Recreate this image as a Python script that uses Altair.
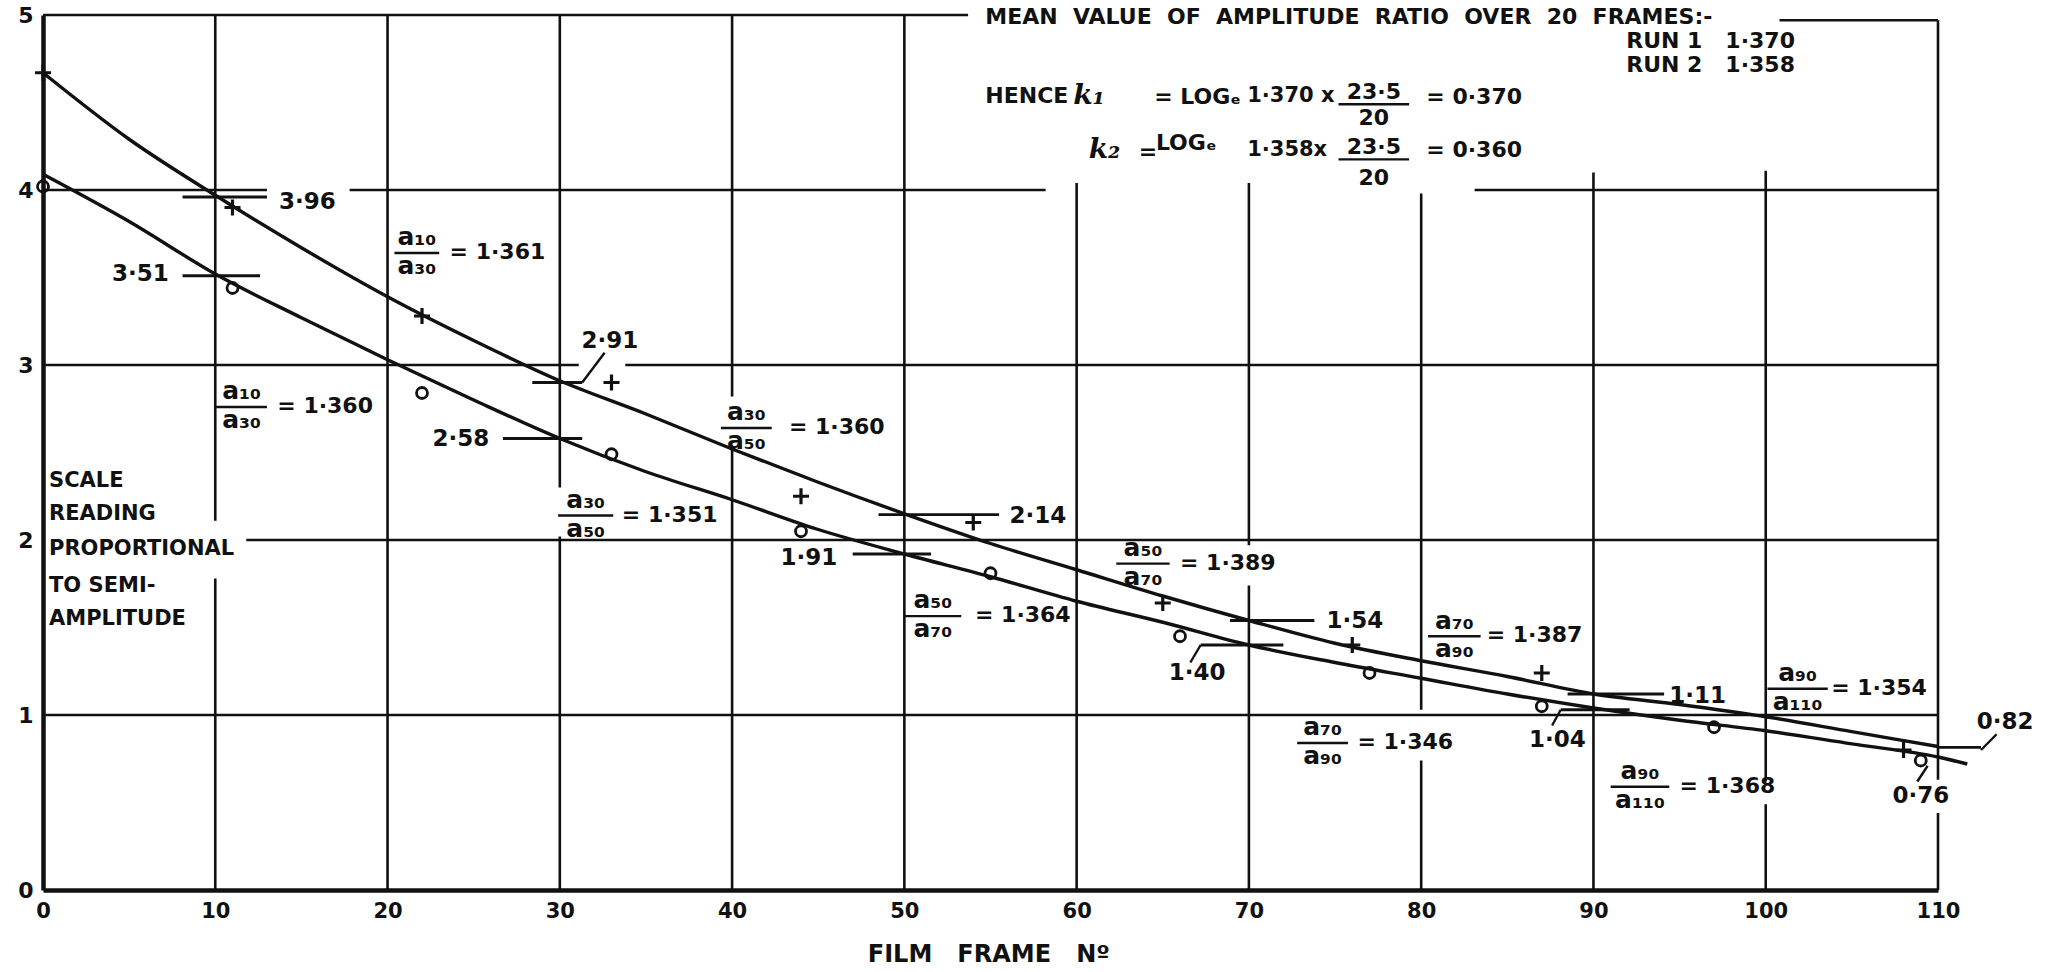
import altair as alt
import pandas as pd

# ---------------- values ----------------
x_ticks = [0, 10, 20, 30, 40, 50, 60, 70, 80, 90, 100, 110]
y_ticks = [0, 1, 2, 3, 4, 5]

# smooth curve, run 1 (upper)
run1_curve_frame = [0, 5, 10, 15, 20, 25, 30, 35, 40, 45, 50, 55, 60, 65, 70, 75, 80, 85, 90, 95, 100, 105, 110]
run1_curve_reading = [4.67, 4.29, 3.97, 3.67, 3.39, 3.14, 2.91, 2.72, 2.52, 2.33, 2.15, 1.98, 1.83, 1.68, 1.54,
                      1.41, 1.31, 1.22, 1.12, 1.06, 0.99, 0.905, 0.82]
# smooth curve, run 2 (lower)
run2_curve_frame = [0, 5, 10, 15, 20, 25, 30, 35, 40, 45, 50, 55, 60, 65, 70, 75, 80, 85, 90, 95, 100, 105, 110, 111.7]
run2_curve_reading = [4.09, 3.82, 3.52, 3.27, 3.03, 2.80, 2.58, 2.39, 2.23, 2.06, 1.92, 1.79, 1.65, 1.53, 1.40,
                      1.30, 1.21, 1.12, 1.04, 0.97, 0.91, 0.835, 0.76, 0.72]

# observed readings
run1_point_frame = [0, 11, 22, 33, 44, 54, 65, 76, 87, 108]
run1_point_reading = [4.67, 3.90, 3.28, 2.90, 2.25, 2.10, 1.64, 1.40, 1.24, 0.80]
run2_point_frame = [0, 11, 22, 33, 44, 55, 66, 77, 87, 97, 109]
run2_point_reading = [4.02, 3.44, 2.84, 2.49, 2.05, 1.81, 1.45, 1.24, 1.05, 0.93, 0.74]

# values marked on the curves every 20 frames
run1_marked = ["3·96", "2·91", "2·14", "1·54", "1·11", "0·82"]
run2_marked = ["3·51", "2·58", "1·91", "1·40", "1·04", "0·76"]

# amplitude ratios
ratio_num = ["a₁₀", "a₁₀", "a₃₀", "a₃₀", "a₅₀", "a₅₀", "a₇₀", "a₇₀", "a₉₀", "a₉₀"]
ratio_den = ["a₃₀", "a₃₀", "a₅₀", "a₅₀", "a₇₀", "a₇₀", "a₉₀", "a₉₀", "a₁₁₀", "a₁₁₀"]
ratio_val = ["1·361", "1·360", "1·360", "1·351", "1·389", "1·364", "1·346", "1·387", "1·354", "1·368"]

title_text = "MEAN  VALUE  OF  AMPLITUDE  RATIO  OVER  20  FRAMES:-"
run_lines = ["RUN 1   1·370", "RUN 2   1·358"]
y_title_lines = ["SCALE", "READING", "PROPORTIONAL", "TO SEMI-", "AMPLITUDE"]
x_title = "FILM   FRAME   Nº"

# ---------------- layout of annotations (data coordinates) ----------------
INK = "#111111"
FONT = "DejaVu Sans"
NB = "\u00a0"


def keep_spaces(s):
    return s.replace(" ", NB)


# interrupted grid lines
vert_grid = [(10, 0, 1.78), (10, 2.11, 5), (20, 0, 5), (30, 0, 2.02), (30, 2.30, 5),
             (40, 0, 2.53), (40, 2.82, 5), (50, 0, 5), (60, 0, 4.04), (70, 0, 1.74), (70, 1.97, 4.04),
             (80, 0, 0.74), (80, 1.03, 3.98), (90, 0, 4.10), (100, 0, 0.49), (100, 0.62, 4.11),
             (110, 0, 0.44), (110, 0.63, 4.97)]
horiz_grid = [(5.0, 0, 53.7), (4.97, 100.8, 110), (4, 0, 13.0), (4, 17.8, 58.2), (4, 83.1, 110),
              (3, 0, 31.1), (3, 33.8, 110), (2, 11.8, 110), (1, 0, 110)]

# short marker ticks at the marked values
mark_ticks = [(3.96, 8.1, 13.0), (3.51, 8.1, 12.6), (2.90, 28.4, 31.3), (2.58, 26.7, 31.3),
              (2.145, 48.5, 55.5), (1.92, 47.0, 51.55), (1.54, 68.9, 73.8), (1.40, 67.2, 72.0),
              (1.12, 88.5, 94.1), (1.03, 88.1, 92.1), (0.815, 110, 112.5)]
leaders = [(31.3, 2.90, 32.6, 3.07), (67.2, 1.40, 66.6, 1.30), (88.1, 1.03, 87.6, 0.94),
           (112.5, 0.80, 113.4, 0.89), (109.4, 0.71, 108.8, 0.62)]
run1_label_pos = [(13.7, 3.93, "left"), (32.9, 3.14, "center"), (56.1, 2.14, "left"),
                  (74.5, 1.54, "left"), (94.4, 1.11, "left"), (113.9, 0.96, "center")]
run2_label_pos = [(7.3, 3.52, "right"), (25.9, 2.58, "right"), (46.1, 1.90, "right"),
                  (67.0, 1.24, "center"), (87.9, 0.86, "center"), (109.0, 0.54, "center")]
# fraction bar x1, x2, y and left x of "= value"
ratio_pos = [(20.4, 23.0, 3.64, 23.6), (10.05, 13.0, 2.76, 13.6), (39.35, 42.3, 2.64, 43.3),
             (29.9, 33.1, 2.14, 33.6), (62.3, 65.4, 1.865, 66.0), (50.0, 53.3, 1.565, 54.1),
             (72.8, 75.75, 0.84, 76.3), (80.4, 83.45, 1.45, 83.8), (100.1, 103.6, 1.15, 103.8),
             (91.0, 94.4, 0.59, 95.0)]

xs = alt.Scale(domain=[0, 110], nice=False, zero=False)
ys = alt.Scale(domain=[0, 5], nice=False, zero=False)
x_axis = alt.Axis(values=x_ticks, title=None, grid=False, ticks=False, domainWidth=4.5, domainColor=INK,
                  labelFont=FONT, labelFontSize=21, labelFontWeight="bold", labelColor=INK,
                  labelPadding=10, labelFlush=False, labelOverlap=False)
y_axis = alt.Axis(values=y_ticks, title=None, grid=False, ticks=False, domainWidth=4.5, domainColor=INK,
                  labelFont=FONT, labelFontSize=22, labelFontWeight="bold", labelColor=INK,
                  labelPadding=10)


def X():
    return alt.X("x:Q", scale=xs, axis=x_axis)


def Y():
    return alt.Y("y:Q", scale=ys, axis=y_axis)


layers = []

# grid segments
vg = pd.DataFrame(vert_grid, columns=["x", "y", "y2"])
layers.append(alt.Chart(vg).mark_rule(color=INK, strokeWidth=2.6).encode(x=X(), y=Y(), y2="y2:Q"))
hg = pd.DataFrame(horiz_grid, columns=["y", "x", "x2"])
layers.append(alt.Chart(hg).mark_rule(color=INK, strokeWidth=2.6).encode(y=Y(), x=X(), x2="x2:Q"))

# curves
c1 = pd.DataFrame({"x": run1_curve_frame, "y": run1_curve_reading})
c2 = pd.DataFrame({"x": run2_curve_frame, "y": run2_curve_reading})
for c in (c1, c2):
    layers.append(alt.Chart(c).mark_line(color=INK, strokeWidth=3.4, interpolate="monotone")
                  .encode(x=X(), y=Y()))

# ticks and leaders
mt = pd.DataFrame(mark_ticks, columns=["y", "x", "x2"])
layers.append(alt.Chart(mt).mark_rule(color=INK, strokeWidth=2.8).encode(y=Y(), x=X(), x2="x2:Q"))
ld = pd.DataFrame(leaders, columns=["x", "y", "x2", "y2"])
layers.append(alt.Chart(ld).mark_rule(color=INK, strokeWidth=2.4)
              .encode(x=X(), y=Y(), x2="x2:Q", y2="y2:Q"))

# observed points
p1 = pd.DataFrame({"x": run1_point_frame, "y": run1_point_reading})
p2 = pd.DataFrame({"x": run2_point_frame, "y": run2_point_reading})
layers.append(alt.Chart(p1).mark_point(shape="M-1,0L1,0M0,-1L0,1", filled=False, size=256,
                                       strokeWidth=3.2, color=INK, opacity=1).encode(x=X(), y=Y()))
layers.append(alt.Chart(p2).mark_point(shape="circle", filled=False, size=120,
                                       strokeWidth=2.8, color=INK, opacity=1).encode(x=X(), y=Y()))

# fraction bars
bars = [(b[2], b[0], b[1]) for b in ratio_pos] + [(4.49, 75.2, 79.3), (4.175, 75.2, 79.3)]
fb = pd.DataFrame(bars, columns=["y", "x", "x2"])
layers.append(alt.Chart(fb).mark_rule(color=INK, strokeWidth=2.4).encode(y=Y(), x=X(), x2="x2:Q"))

# texts
texts = {"left": [], "center": [], "right": []}
for lab, (lx, ly, al) in zip(run1_marked, run1_label_pos):
    texts[al].append((lx, ly, lab, 23))
for lab, (lx, ly, al) in zip(run2_marked, run2_label_pos):
    texts[al].append((lx, ly, lab, 23))
for n, d, v, (bx1, bx2, by, ex) in zip(ratio_num, ratio_den, ratio_val, ratio_pos):
    cx = (bx1 + bx2) / 2
    texts["center"].append((cx, by + 0.09, n, 25))
    texts["center"].append((cx, by - 0.075, d, 25))
    texts["left"].append((ex, by + 0.005, keep_spaces("= " + v), 22))
texts["left"].append((54.7, 4.99, keep_spaces(title_text), 22))
for t, yy in zip(run_lines, [4.85, 4.715]):
    texts["left"].append((91.9, yy, keep_spaces(t), 22))
for t, yy in zip(y_title_lines, [2.34, 2.15, 1.95, 1.74, 1.55]):
    texts["left"].append((0.35, yy, keep_spaces(t), 21))
texts["center"].append((54.9, -0.37, keep_spaces(x_title), 24))
# HENCE block
texts["left"] += [(54.7, 4.54, "HENCE", 22), (64.5, 4.53, keep_spaces("= LOGₑ"), 22),
                  (69.9, 4.54, keep_spaces("1·370 x"), 21), (80.3, 4.53, keep_spaces("= 0·370"), 22),
                  (63.6, 4.22, "=", 22), (64.6, 4.27, "LOGₑ", 22), (69.9, 4.23, "1·358x", 21),
                  (80.3, 4.23, keep_spaces("= 0·360"), 22)]
texts["center"] += [(77.25, 4.56, "23·5", 22), (77.25, 4.41, "20", 22),
                    (77.25, 4.245, "23·5", 22), (77.25, 4.07, "20", 22)]
italic = [(59.8, 4.54, "k₁", 28), (60.7, 4.23, "k₂", 28)]

for al, rows in texts.items():
    df = pd.DataFrame(rows, columns=["x", "y", "t", "s"])
    layers.append(alt.Chart(df).mark_text(align=al, baseline="middle", font=FONT, fontWeight="bold",
                                          color=INK)
                  .encode(x=X(), y=Y(), text="t:N", size=alt.Size("s:Q", scale=None, legend=None)))
dfi = pd.DataFrame(italic, columns=["x", "y", "t", "s"])
layers.append(alt.Chart(dfi).mark_text(align="left", baseline="middle", font="DejaVu Serif",
                                       fontWeight="bold", fontStyle="italic", color=INK)
              .encode(x=X(), y=Y(), text="t:N", size=alt.Size("s:Q", scale=None, legend=None)))

chart = (alt.layer(*layers)
         .properties(width=1895, height=875,
                     padding={"left": 43, "top": 15, "right": 118, "bottom": 82},
                     autosize=alt.AutoSizeParams(type="none"), background="white")
         .configure_view(stroke=None))

chart.save("out.html", embed_options={"renderer": "svg", "actions": False})
